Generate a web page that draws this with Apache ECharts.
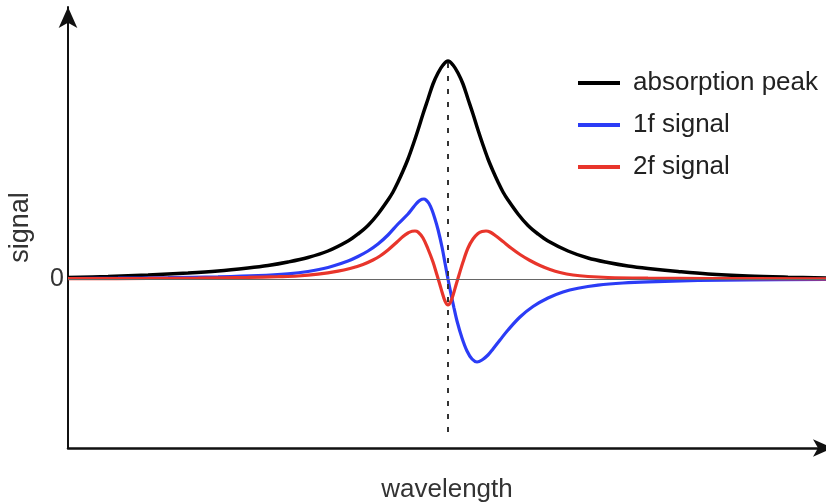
<!DOCTYPE html>
<html>
<head>
<meta charset="utf-8">
<script src="https://cdn.jsdelivr.net/npm/echarts@6/dist/echarts.min.js"></script>
<style>
  html, body { margin: 0; padding: 0; background: #fff; }
  #chart { width: 826px; height: 504px; }
</style>
</head>
<body>
<div id="chart"></div>
<script>
// Wavelength offset from line centre (arbitrary units) and signal amplitude (a.u.)
const peakX = [-380, -340, -300, -260, -230, -200, -180, -160, -140, -120, -100, -90, -80, -70, -60, -55, -50, -45, -40, -35, -30, -25, -20, -15, -10, -5, 0,
               5, 10, 15, 20, 25, 30, 35, 40, 45, 50, 55, 60, 70, 80, 90, 100, 120, 140, 160, 180, 200, 230, 260, 300, 340, 378];
const peakY = [1.5, 2.5, 4, 6, 8, 11, 13.5, 17, 21.5, 28, 38, 45, 53.5, 65, 79, 87, 97, 108, 120, 134, 149, 165, 180, 195, 206, 214, 218,
               214, 206, 195, 180, 165, 149, 134, 120, 108, 97, 87, 79, 65, 53.5, 45, 38, 28, 21, 16.5, 13, 10.5, 7.5, 5, 3, 1.8, 1];

const sig1fX = [-380, -330, -280, -230, -190, -160, -140, -120, -100, -90, -80, -70, -60, -50, -40, -36, -32, -29, -26, -24, -22, -19, -16, -13, -10, -6, -3, 0,
                3, 6, 9, 14, 19, 24, 29, 34, 40, 45, 52, 60, 72, 85, 100, 115, 130, 150, 175, 200, 250, 300, 378];
const sig1fY = [0.5, 0.8, 1.3, 2.2, 3.4, 5.2, 7.5, 11.5, 18, 22.5, 28, 35, 44, 55, 65, 70, 75, 78, 79.8, 80, 79, 75.5, 69, 60, 49.5, 32, 16, 0,
                -15, -29, -42, -59, -72, -80, -83, -81, -76, -70, -61, -51, -38, -27.5, -19, -13, -9.3, -6.2, -4, -2.8, -1.5, -0.8, -0.3];

const sig2fX = [-380, -300, -250, -200, -170, -150, -130, -110, -98, -85, -75, -68, -60, -51, -45, -40, -36, -33, -30, -25, -20, -15, -11, -8, -6, -3, 0,
                3, 6, 8, 11, 15, 20, 25, 30, 34, 38, 42, 48, 55, 63, 72, 82, 92, 102, 112, 125, 140, 160, 200, 260, 378];
const sig2fY = [0.3, 0.6, 1, 1.6, 2.3, 3, 4.8, 7.8, 10.5, 14.5, 19, 23, 29, 37, 42.5, 46, 47.8, 48, 47, 41, 30, 17, 4, -6, -13, -22, -26,
                -22, -13, -6, 4, 17, 31, 40, 45.5, 47.5, 48, 47, 43, 37.5, 31, 24.5, 18.5, 13.5, 9.5, 6.5, 4, 2.5, 1.5, 0.9, 0.5, 0.2];

const seriesNames = ['absorption peak', '1f signal', '2f signal'];
const seriesColors = ['#000000', '#2b3cf6', '#e8352b'];
const zeroTicks = [0];

const pairs = (xs, ys) => xs.map((x, i) => [x, ys[i]]);

const font = '"Liberation Sans", Arial, sans-serif';
const chart = echarts.init(document.getElementById('chart'), null, { renderer: 'canvas' });

const curve = (name, xs, ys, color, width) => ({
  name: name,
  type: 'line',
  data: pairs(xs, ys),
  showSymbol: false,
  smooth: 0.35,
  z: 3,
  lineStyle: { color: color, width: width },
  itemStyle: { color: color }
});

chart.setOption({
  animation: false,
  backgroundColor: '#ffffff',
  grid: { left: 68, right: 0, top: 7, bottom: 56, outerBoundsMode: 'none', containLabel: false },
  legend: {
    data: seriesNames,
    orient: 'vertical',
    left: 573,
    top: 63,
    icon: 'rect',
    itemWidth: 42,
    itemHeight: 4,
    itemGap: 12,
    textStyle: { fontFamily: font, fontSize: 26, color: '#222', lineHeight: 30, padding: [0, 0, 0, 8] }
  },
  xAxis: {
    type: 'value',
    min: -380,
    max: 378,
    name: 'wavelength',
    nameLocation: 'middle',
    nameGap: 29,
    nameTextStyle: { fontFamily: font, fontSize: 26, color: '#333' },
    axisLine: { onZero: false, symbol: ['none', 'arrow'], symbolSize: [13, 20], symbolOffset: [0, 7], lineStyle: { color: '#111', width: 2.5 } },
    axisTick: { show: false },
    axisLabel: { show: false },
    splitLine: { show: false }
  },
  yAxis: {
    type: 'value',
    min: -169,
    max: 272,
    name: 'signal',
    nameLocation: 'middle',
    nameRotate: 90,
    nameGap: 34,
    nameTextStyle: { fontFamily: font, fontSize: 27, color: '#333' },
    axisLine: { onZero: false, symbol: ['none', 'arrow'], symbolSize: [14, 21], lineStyle: { color: '#111', width: 2 } },
    axisTick: { show: false },
    axisLabel: { customValues: zeroTicks, formatter: v => String(v), margin: 4, fontFamily: font, fontSize: 25, color: '#333' },
    splitLine: { show: false }
  },
  series: [
    {
      name: 'guides',
      type: 'line',
      data: [[0, 0]],
      showSymbol: false,
      lineStyle: { width: 0 },
      z: 1,
      silent: true,
      markLine: {
        silent: true,
        symbol: ['none', 'none'],
        label: { show: false },
        data: [
          [{ coord: [-380, 0], lineStyle: { color: '#666', width: 1, type: 'solid' } }, { coord: [378, 0] }],
          [{ coord: [0, 216], lineStyle: { color: '#333', width: 2, type: [5, 8] } }, { coord: [0, -160] }]
        ]
      }
    },
    curve(seriesNames[0], peakX, peakY, seriesColors[0], 3.5),
    curve(seriesNames[1], sig1fX, sig1fY, seriesColors[1], 3.2),
    curve(seriesNames[2], sig2fX, sig2fY, seriesColors[2], 3.2)
  ]
});
</script>
</body>
</html>
